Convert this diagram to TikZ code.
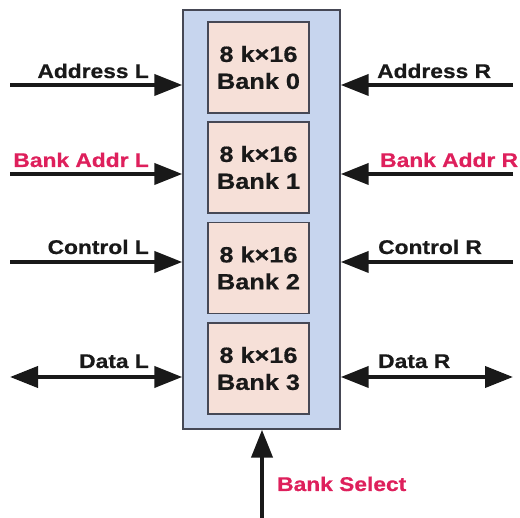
\documentclass[tikz,border=0pt]{standalone}
\usepackage{fontspec}
\setmainfont{Liberation Sans}[BoldFont={* Bold}, BoldFeatures={FakeStretch=1.15,FakeBold=0.6}]
\usetikzlibrary{arrows.meta}
\definecolor{chipblue}{RGB}{199,213,238}
\definecolor{bankpink}{RGB}{246,224,216}
\definecolor{edgegray}{RGB}{70,72,85}
\definecolor{labelpink}{RGB}{222,32,92}
\definecolor{ink}{RGB}{25,25,25}
\begin{document}
\begin{tikzpicture}[x=1pt,y=-1pt,
  chipbox/.style={draw=edgegray,line width=1.4pt,fill=chipblue,minimum width=157pt,minimum height=419pt,inner sep=0pt},
  bankbox/.style={draw=edgegray,line width=1.4pt,fill=bankpink,minimum width=101pt,minimum height=91pt,inner sep=0pt,align=center,font=\fontsize{22}{27}\selectfont\bfseries,text=ink},
  sig/.style={line width=4pt,draw=ink,-{Triangle[length=28pt,width=21pt]}},
  bisig/.style={line width=4pt,draw=ink,{Triangle[length=28pt,width=21pt]}-{Triangle[length=28pt,width=21pt]}},
  lab/.style={font=\fontsize{19.8}{20}\selectfont\bfseries,text=ink,inner sep=0pt},
  plab/.style={lab,text=labelpink}]
\useasboundingbox (0,0) rectangle (520,518);
\node[chipbox] (chip) at (261.5,219.5) {};
\node[bankbox] (b0) at (258.5,67.5) {8 k\texttimes16\\Bank 0};
\node[bankbox] (b1) at (258.5,167.5) {8 k\texttimes16\\Bank 1};
\node[bankbox] (b2) at (258.5,268) {8 k\texttimes16\\Bank 2};
\node[bankbox] (b3) at (258.5,368.5) {8 k\texttimes16\\Bank 3};
% left inputs
\coordinate (aL) at (10,85);
\coordinate (baL) at (10,174);
\coordinate (cL) at (10,262);
\coordinate (dL) at (10,377);
\draw[sig] (aL) -- (aL -| chip.west);
\draw[sig] (baL) -- (baL -| chip.west);
\draw[sig] (cL) -- (cL -| chip.west);
\draw[bisig] (dL) -- (dL -| chip.west);
% right inputs
\coordinate (aR) at (513,85);
\coordinate (baR) at (513,174);
\coordinate (cR) at (513,262);
\coordinate (dR) at (513,377);
\draw[sig] (aR) -- (aR -| chip.east);
\draw[sig] (baR) -- (baR -| chip.east);
\draw[sig] (cR) -- (cR -| chip.east);
\draw[bisig] (dR -| chip.east) -- (dR);
% bank select
\coordinate (bs) at (262,518);
\draw[sig] (bs) -- (bs |- chip.south);
% labels
\node[lab,anchor=base east] (tAL) at (149,78) {Address L};
\node[plab,anchor=base east] (tBAL) at (149,167) {Bank Addr L};
\node[lab,anchor=base east] (tCL) at (149,254) {Control L};
\node[lab,anchor=base east] (tDL) at (149,368) {Data L};
\node[lab,anchor=base west] (tAR) at (377,78) {Address R};
\node[plab,anchor=base west] (tBAR) at (380,167) {Bank Addr R};
\node[lab,anchor=base west] (tCR) at (378,254) {Control R};
\node[lab,anchor=base west] (tDR) at (378,368) {Data R};
\node[plab,anchor=base west] (tBS) at (277,491) {Bank Select};
\end{tikzpicture}
\end{document}
